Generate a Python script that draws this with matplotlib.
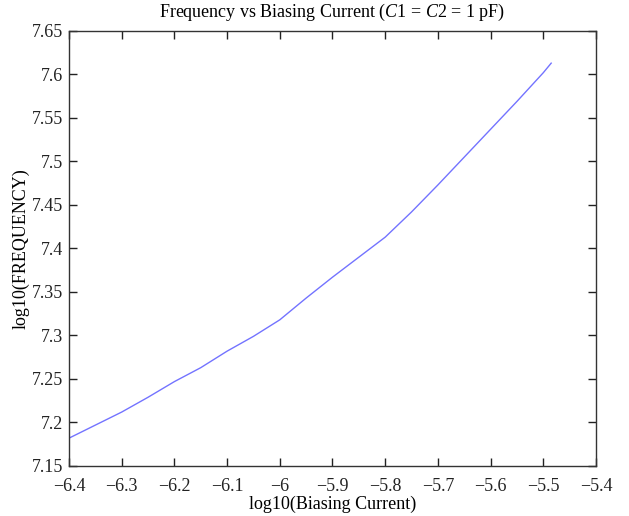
import matplotlib
matplotlib.use("Agg")
import matplotlib.pyplot as plt

# log10 biasing current vs log10 frequency (C1 = C2 = 1 pF)
log_current = [-6.4, -6.35, -6.3, -6.25, -6.2, -6.15, -6.1, -6.05, -6.0, -5.95,
               -5.9, -5.85, -5.8, -5.75, -5.7, -5.65, -5.6, -5.55, -5.5, -5.485]
log_freq = [7.182, 7.197, 7.212, 7.229, 7.247, 7.263, 7.282, 7.299, 7.318, 7.343,
            7.367, 7.390, 7.413, 7.442, 7.473, 7.505, 7.537, 7.569, 7.602, 7.613]

x_ticks = [-6.4, -6.3, -6.2, -6.1, -6.0, -5.9, -5.8, -5.7, -5.6, -5.5, -5.4]
x_labels = ["\u22126.4", "\u22126.3", "\u22126.2", "\u22126.1", "\u22126", "\u22125.9",
            "\u22125.8", "\u22125.7", "\u22125.6", "\u22125.5", "\u22125.4"]
y_ticks = [7.15, 7.2, 7.25, 7.3, 7.35, 7.4, 7.45, 7.5, 7.55, 7.6, 7.65]
y_labels = ["7.15", "7.2", "7.25", "7.3", "7.35", "7.4", "7.45", "7.5", "7.55", "7.6", "7.65"]

plt.rcParams["font.family"] = ["Liberation Serif", "DejaVu Serif"]
plt.rcParams["mathtext.fontset"] = "custom"
plt.rcParams["mathtext.rm"] = "Liberation Serif"
plt.rcParams["mathtext.it"] = "Liberation Serif:italic"

fig = plt.figure(figsize=(6.29, 5.16), dpi=100)
ax = fig.add_axes([0.1097, 0.0969, 0.8378, 0.8431])

ax.plot(log_current, log_freq, color="blue", linewidth=1.0, alpha=0.55)

ax.set_xlim(-6.4, -5.4)
ax.set_ylim(7.15, 7.65)
ax.set_xticks(x_ticks)
ax.set_xticklabels(x_labels)
ax.set_yticks(y_ticks)
ax.set_yticklabels(y_labels)
ax.tick_params(direction="in", top=True, right=True, length=6, width=1,
               labelsize=13, colors="#222222")
ax.tick_params(axis="x", pad=9)
ax.tick_params(axis="y", pad=4)
for s in ax.spines.values():
    s.set_linewidth(1.0)
    s.set_color("#333333")

ax.set_xlabel("log10(Biasing Current)", fontsize=13, labelpad=0)
ax.set_ylabel("log10(FREQUENCY)", fontsize=13, labelpad=2)
ax.set_title("Frequency vs Biasing Current ($C$1 = $C$2 = 1 pF)", fontsize=13, pad=10)

fig.savefig("out.png", dpi=100)
